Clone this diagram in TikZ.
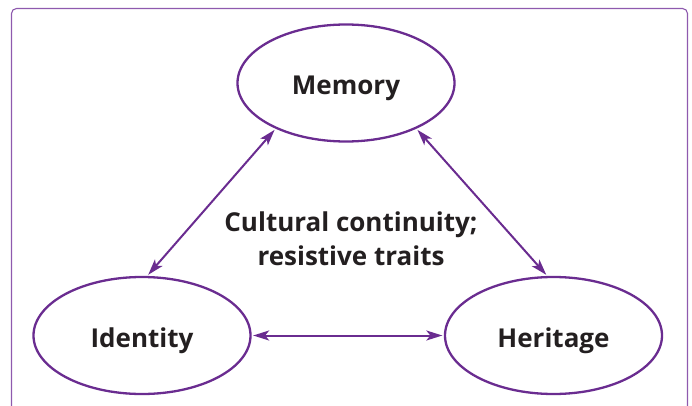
\documentclass[tikz,border=0pt]{standalone}
\usepackage{fontspec}
\setmainfont{Open Sans}
\usetikzlibrary{shapes.geometric,arrows.meta}
\definecolor{ellpurple}{HTML}{6A2C90}
\definecolor{framepurple}{HTML}{8E5AAE}
\definecolor{txt}{HTML}{231F20}
\begin{document}
\begin{tikzpicture}[x=1pt,y=-1pt,
  labelfont/.style={font=\bfseries\fontsize{26}{34}\selectfont,text=txt},
  conceptbox/.style={ellipse,draw=ellpurple,line width=2.3pt,minimum width=217pt,minimum height=117pt,inner sep=0pt,labelfont,text height=23.5pt,text depth=0pt},
  link/.style={draw=ellpurple,line width=2pt,shorten <=1.5pt,shorten >=1.5pt,{Stealth[length=16pt,width=10pt,inset=4pt]}-{Stealth[length=16pt,width=10pt,inset=4pt]}},
  framebox/.style={draw=framepurple,line width=1.1pt,rounded corners=5pt}]
\useasboundingbox (0,0) rectangle (692,406);
\draw[framebox] (11.5,406) -- (11.5,8.5) -- (687.5,8.5) -- (687.5,406);
\node[conceptbox] (memory) at (346,83) {Memory};
\node[conceptbox] (identity) at (142,335.5) {Identity};
\node[conceptbox] (heritage) at (553.5,335.5) {Heritage};
\node[labelfont,align=center,inner sep=0pt] (center) at (351,239) {Cultural continuity;\\resistive traits};
\draw[link] (memory.213) -- (identity.85);
\draw[link] (memory.327.7) -- (heritage.96);
\draw[link] (identity.east) -- (heritage.west);
\end{tikzpicture}
\end{document}
